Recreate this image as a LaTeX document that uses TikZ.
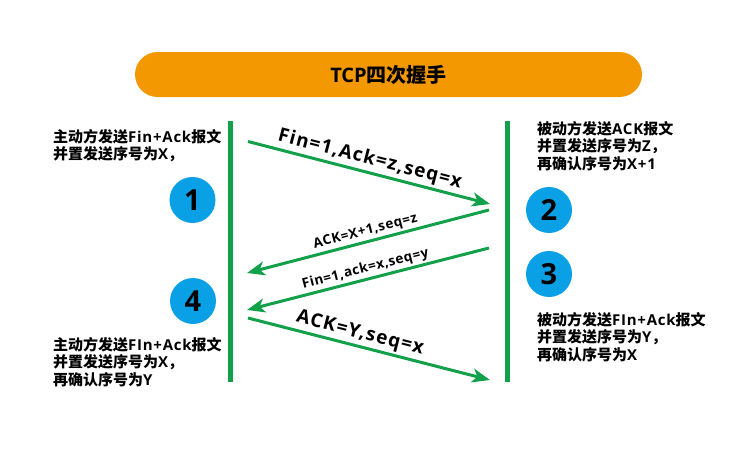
\documentclass[tikz,border=0pt]{standalone}
\usepackage{fontspec}
\setmainfont{Open Sans}
\newfontfamily\zhfont{Noto Sans CJK SC}
\newfontfamily\labfont{Open Sans}[LetterSpace=6]
\newfontfamily\slabfont{Open Sans}[LetterSpace=4]
\newfontfamily\descfont{Open Sans}[LetterSpace=5]
\newcommand\zh[1]{{\zhfont\bfseries #1}}
\usetikzlibrary{arrows.meta}
\definecolor{tgreen}{HTML}{13A04A}
\definecolor{tblue}{HTML}{0AA0E6}
\definecolor{torange}{HTML}{F39800}
\tikzset{
  vline/.style={draw=tgreen, line width=4.5pt},
  msg/.style={draw=tgreen, line width=3pt, -{Stealth[length=18pt,width=14pt,inset=5pt]}},
  numc/.style={circle, fill=tblue, minimum size=46pt, inner sep=0pt, font=\fontsize{29}{29}\selectfont\bfseries},
  desc/.style={anchor=north west, inner sep=0pt, align=left, font=\descfont\fontsize{15}{17.7}\selectfont\bfseries},
  biglab/.style={sloped, above, inner sep=2pt, font=\labfont\fontsize{19}{19}\selectfont\bfseries},
  smalllab/.style={sloped, above, midway, inner sep=2pt, font=\slabfont\fontsize{13.5}{13.5}\selectfont\bfseries}
}
\begin{document}
\begin{tikzpicture}[x=1pt,y=-1pt]
\useasboundingbox (0,0) rectangle (756,463);
\node[fill=torange, rounded corners=22.5pt, minimum width=507pt, minimum height=45pt, inner sep=0pt,
      font=\fontsize{20}{20}\selectfont\bfseries] (title) at (388.5,74.5) {TCP\zh{四次握手}};

\coordinate (Lt) at (230.5,121);
\coordinate (Lb) at (230.5,382);
\coordinate (Rt) at (507.5,121);
\coordinate (Rb) at (507.5,382);
\draw[vline] (Lt) -- (Lb);
\draw[vline] (Rt) -- (Rb);

\coordinate (a1s) at (248,141.5);
\coordinate (a1e) at (490,204);
\coordinate (a2s) at (489,210);
\coordinate (a2e) at (247,273);
\coordinate (a3s) at (489,248);
\coordinate (a3e) at (247,310);
\coordinate (a4s) at (248,318);
\coordinate (a4e) at (490,380);

\draw[msg] (a1s) -- node[biglab, pos=0.49] (l1) {Fin=1,Ack=z,seq=x} (a1e);
\draw[msg] (a2s) -- node[smalllab] (l2) {ACK=X+1,seq=z} (a2e);
\draw[msg] (a3s) -- node[smalllab] (l3) {Fin=1,ack=x,seq=y} (a3e);
\draw[msg] (a4s) -- node[biglab, pos=0.45] (l4) {ACK=Y,seq=x} (a4e);

\node[numc] (n1) at (192.5,200) {1};
\node[numc] (n2) at (549,210) {2};
\node[numc] (n3) at (549,274) {3};
\node[numc] (n4) at (193,301) {4};

\node[desc] (d1) at (53,129) {\zh{主动方发送}Fin+Ack\zh{报文}\\\zh{并置发送序号为}X\zh{，}};
\node[desc] (d2) at (537,121) {\zh{被动方发送}ACK\zh{报文}\\\zh{并置发送序号为}Z\zh{，}\\\zh{再确认序号为}X+1};
\node[desc] (d3) at (537,312) {\zh{被动方发送}FIn+Ack\zh{报文}\\\zh{并置发送序号为}Y\zh{，}\\\zh{再确认序号为}X};
\node[desc] (d4) at (53,337) {\zh{主动方发送}FIn+Ack\zh{报文}\\\zh{并置发送序号为}X\zh{，}\\\zh{再确认序号为}Y};
\end{tikzpicture}
\end{document}
